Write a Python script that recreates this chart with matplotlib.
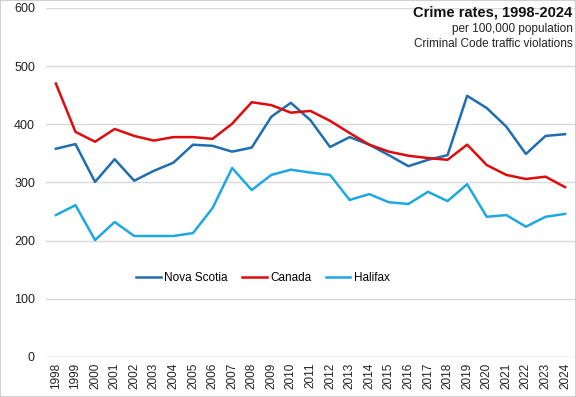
import matplotlib
matplotlib.use('Agg')
from matplotlib import pyplot as plt
from matplotlib.patches import Rectangle

years = list(range(1998, 2025))
nova_scotia = [358, 366, 301, 340, 303, 320, 334, 365, 363, 353, 360, 413, 437, 407,
               361, 378, 365, 347, 328, 339, 347, 449, 428, 396, 349, 380, 383]
canada = [470, 387, 370, 392, 380, 372, 378, 378, 375, 401, 438, 433, 420, 423,
          406, 385, 365, 353, 346, 342, 339, 365, 330, 313, 306, 310, 292]
halifax = [244, 261, 201, 232, 208, 208, 208, 213, 256, 325, 287, 313, 322, 317,
           313, 270, 280, 266, 263, 284, 268, 297, 241, 244, 224, 241, 246]

plt.rcParams['font.family'] = ['Liberation Sans', 'DejaVu Sans']

fig = plt.figure(figsize=(5.76, 3.97), dpi=100)
ax = fig.add_axes([0.08, 0.1008, 0.918, 0.8791])

x = list(range(len(years)))
ax.plot(x, nova_scotia, color='#1f6eb0', lw=1.8, label='Nova Scotia')
ax.plot(x, canada, color='#e00b0b', lw=1.8, label='Canada')
ax.plot(x, halifax, color='#1fa8e0', lw=1.8, label='Halifax')

ax.set_xlim(-0.5, len(years) - 0.5)
ax.set_ylim(0, 600)
ax.set_yticks(range(0, 601, 100))
ax.set_xticks(x)
ax.set_xticklabels([str(y) for y in years], rotation=90, fontsize=8.5, color='#222222')
ax.tick_params(axis='y', labelsize=9, colors='#222222', length=0, pad=8)
ax.tick_params(axis='x', length=0, pad=4)
ax.grid(axis='y', color='#d9d9d9', lw=1)
ax.set_axisbelow(True)
for s in ax.spines.values():
    s.set_visible(False)
ax.axhline(0, color='#d9d9d9', lw=1)

ax.legend(loc='center', bbox_to_anchor=(0.41, 0.226), ncol=3, frameon=False,
          fontsize=8.5, handlelength=2.1, columnspacing=1.2, handletextpad=0.3)

fig.text(0.994, 0.968, 'Crime rates, 1998-2024', ha='right', va='center',
         fontsize=10.5, fontweight='bold', color='#111111')
fig.text(0.994, 0.928, 'per 100,000 population', ha='right', va='center',
         fontsize=8.5, color='#222222')
fig.text(0.994, 0.888, 'Criminal Code traffic violations', ha='right', va='center',
         fontsize=8.5, color='#222222')

fig.patches.append(Rectangle((0, 0), 1, 1, transform=fig.transFigure, fill=False,
                             edgecolor='#d0d0d0', lw=1.5))

fig.savefig('out.png', dpi=100)
